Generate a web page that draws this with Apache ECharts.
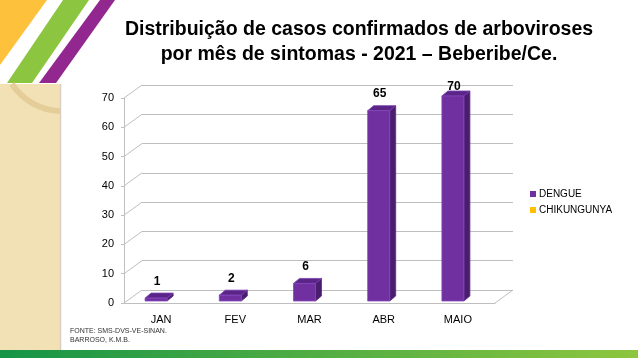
<!DOCTYPE html>
<html>
<head>
<meta charset="utf-8">
<script src="https://cdn.jsdelivr.net/npm/echarts@6/dist/echarts.min.js"></script>
<style>
html,body{margin:0;padding:0;background:#fff;}
#chart{width:638px;height:358px;}
</style>
</head>
<body>
<div id="chart"></div>
<script>
// ---- data ----
const categories = ['JAN', 'FEV', 'MAR', 'ABR', 'MAIO'];
const dengue = [1, 2, 6, 65, 70];
const chikungunya = [null, null, null, null, null];
const yTicks = [0, 10, 20, 30, 40, 50, 60, 70];
const titleLines = ['Distribuição de casos confirmados de arboviroses', 'por mês de sintomas - 2021 – Beberibe/Ce.'];
const sourceLines = ['FONTE: SMS-DVS-VE-SINAN.', 'BARROSO, K.M.B.'];

// ---- layout / style ----
const FONT = '"Liberation Sans", Arial, sans-serif';
const DX = 18, DY = -13;          // depth of the 3D walls
const BAR_W = 22, BAR_DX = 6, BAR_DY = -5;
const GRID_L = 124, GRID_T = 98, GRID_W = 371, GRID_H = 205;
const GRID_COLOR = '#BFBFBF';

const chart = echarts.init(document.getElementById('chart'), null, {renderer: 'canvas'});

const option = {
  backgroundColor: '#ffffff',
  animation: false,
  textStyle: {fontFamily: FONT},
  title: {
    text: titleLines.join('\n'),
    left: 359, top: 17, textAlign: 'center', padding: 0,
    textStyle: {fontFamily: FONT, fontSize: 19.5, fontWeight: 'bold', color: '#000', lineHeight: 25}
  },
  legend: {
    orient: 'vertical', left: 530, top: 189, padding: 0,
    itemWidth: 6, itemHeight: 6, itemGap: 6,
    textStyle: {fontFamily: FONT, fontSize: 10, color: '#000', padding: [0, 0, 0, -2]},
    data: [{name: 'DENGUE', icon: 'rect'}, {name: 'CHIKUNGUNYA', icon: 'rect'}]
  },
  grid: [
    {left: GRID_L, top: GRID_T, width: GRID_W, height: GRID_H},
    {left: GRID_L + DX, top: GRID_T + DY, width: GRID_W, height: GRID_H}
  ],
  xAxis: [
    {type: 'category', gridIndex: 0, data: categories,
     axisLine: {lineStyle: {color: GRID_COLOR}},
     axisTick: {length: 4, lineStyle: {color: GRID_COLOR}},
     axisLabel: {fontFamily: FONT, fontSize: 11, color: '#000', margin: 11},
     splitLine: {show: false}},
    {type: 'category', gridIndex: 1, data: categories,
     axisLine: {show: false}, axisTick: {show: false}, axisLabel: {show: false}, splitLine: {show: false}}
  ],
  yAxis: [
    {type: 'value', gridIndex: 0, min: 0, max: 70, interval: 10,
     axisLine: {show: true, lineStyle: {color: GRID_COLOR}},
     axisTick: {show: true, length: 3, lineStyle: {color: GRID_COLOR}},
     axisLabel: {fontFamily: FONT, fontSize: 11, color: '#000', margin: 10},
     splitLine: {show: false}},
    {type: 'value', gridIndex: 1, min: 0, max: 70, interval: 10,
     axisLine: {show: false}, axisTick: {show: false}, axisLabel: {show: false},
     splitLine: {show: true, lineStyle: {color: GRID_COLOR, width: 1}}}
  ],
  series: [
    {
      type: 'custom', name: 'walls', xAxisIndex: 0, yAxisIndex: 0, silent: true, z: 1,
      data: yTicks.map(v => [0, v]),
      renderItem: function (params, api) {
        const cs = params.coordSys;
        const y = api.coord([0, api.value(1)])[1];
        const children = [{
          type: 'line', shape: {x1: cs.x, y1: y, x2: cs.x + DX, y2: y + DY},
          style: {stroke: GRID_COLOR, lineWidth: 1}
        }];
        if (api.value(1) === 0) {
          children.push({
            type: 'line', shape: {x1: cs.x + cs.width, y1: y, x2: cs.x + cs.width + DX, y2: y + DY},
            style: {stroke: GRID_COLOR, lineWidth: 1}
          });
        }
        return {type: 'group', children: children};
      }
    },
    {
      type: 'custom', name: 'DENGUE', xAxisIndex: 0, yAxisIndex: 0, z: 5,
      itemStyle: {color: '#7030A0'},
      data: dengue.map((v, i) => [i, v]),
      renderItem: function (params, api) {
        const cs = params.coordSys;
        const base = api.coord([api.value(0), 0]);
        const top = api.coord([api.value(0), api.value(1)]);
        const x0 = base[0] - 16, x1 = x0 + BAR_W;
        const yb = base[1] - 2, yt = top[1] - 2;
        let ly = yt + BAR_DY - 11.5;
        ly = Math.max(ly, cs.y - 11);
        return {
          type: 'group',
          children: [
            {type: 'polygon', shape: {points: [[x1, yb], [x1 + BAR_DX, yb + BAR_DY], [x1 + BAR_DX, yt + BAR_DY], [x1, yt]]},
             style: {fill: '#4A1D6E', stroke: '#5E2A8A', lineWidth: 0.8}},
            {type: 'polygon', shape: {points: [[x0, yt], [x1, yt], [x1 + BAR_DX, yt + BAR_DY], [x0 + BAR_DX, yt + BAR_DY]]},
             style: {fill: '#5A2587', stroke: '#7A3CB0', lineWidth: 0.8}},
            {type: 'rect', shape: {x: x0, y: yt, width: BAR_W, height: yb - yt},
             style: {fill: '#7030A0', stroke: '#8446BC', lineWidth: 0.8}},
            {type: 'text', z2: 10,
             style: {text: String(api.value(1)), x: x0 + BAR_W / 2 + 1, y: ly,
                     textAlign: 'center', textVerticalAlign: 'middle',
                     font: 'bold 12px ' + FONT, fill: '#000'}}
          ]
        };
      }
    },
    {
      type: 'bar', name: 'CHIKUNGUNYA', xAxisIndex: 0, yAxisIndex: 0,
      itemStyle: {color: '#FFC000'}, data: chikungunya
    }
  ],
  graphic: [
    // left beige panel
    {type: 'rect', left: 0, top: 84, shape: {width: 60, height: 266}, style: {fill: '#F3E1B6'}, z: -10},
    {type: 'arc', shape: {cx: 62, cy: 51, r: 60, startAngle: 1.604, endAngle: 2.56},
     style: {stroke: '#E4CD98', lineWidth: 6, fill: null}, z: -9},
    {type: 'line', shape: {x1: 60.5, y1: 84, x2: 60.5, y2: 350}, style: {stroke: '#D6CFC2', lineWidth: 1.5}, z: -8},
    // top-left stripes
    {type: 'polygon', shape: {points: [[0, 0], [47, 0], [0, 65]]}, style: {fill: '#FDC13C'}, z: -10},
    {type: 'polygon', shape: {points: [[63, 0], [89, 0], [32, 83], [7, 83]]}, style: {fill: '#8CC53F'}, z: -10},
    {type: 'polygon', shape: {points: [[100, 0], [115, 0], [56, 83], [39, 83]]}, style: {fill: '#92278F'}, z: -10},
    // bottom strip
    {type: 'rect', left: 0, top: 350, shape: {width: 638, height: 8},
     style: {fill: new echarts.graphic.LinearGradient(0, 0, 1, 0, [{offset: 0, color: '#159447'}, {offset: 1, color: '#8DC63F'}])}, z: -10},
    // source
    {type: 'text', left: 70, top: 327,
     style: {text: sourceLines.join('\n'), font: '7px ' + FONT, fill: '#333', lineHeight: 9}}
  ]
};
chart.setOption(option);
</script>
</body>
</html>
